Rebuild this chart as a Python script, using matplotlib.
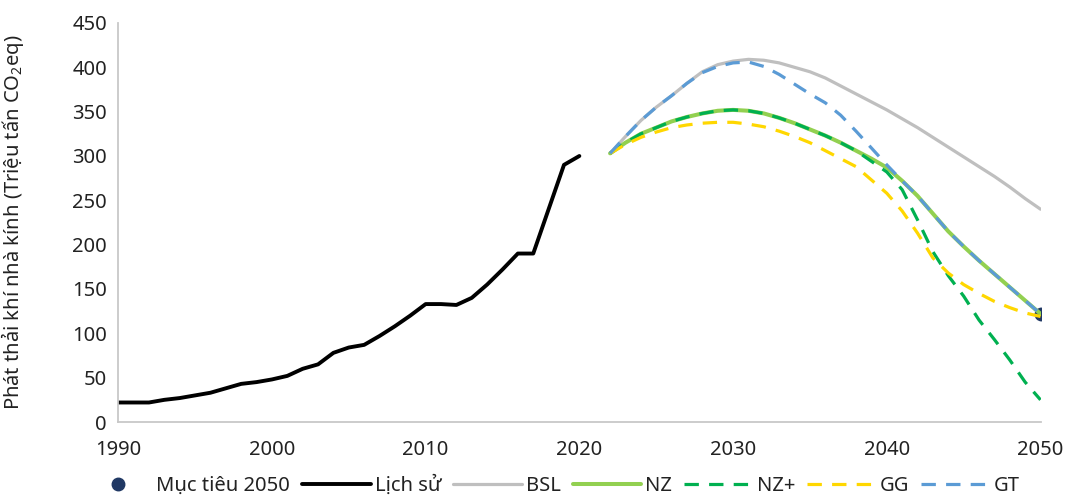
import numpy as np
import matplotlib
matplotlib.use("Agg")
import matplotlib.pyplot as plt

plt.rcParams['font.family'] = ['Noto Sans', 'DejaVu Sans']
plt.rcParams['mathtext.fontset'] = 'custom'
plt.rcParams['mathtext.rm'] = 'Noto Sans'
plt.rcParams['mathtext.it'] = 'Noto Sans'

# historical emissions (Lịch sử)
hist_years = list(range(1990, 2021))
hist_vals = [22, 22, 22, 25, 27, 30, 33, 38, 43, 45, 48, 52, 60, 65, 78, 84, 87, 97,
             108, 120, 133, 133, 132, 140, 155, 172, 190, 190, 240, 290, 300]

# scenarios 2022-2050
scen_years = list(range(2022, 2051))
bsl = [303, 322, 340, 355, 368, 382, 395, 403, 407, 409, 408, 405, 400, 395, 388,
       379, 370, 361, 352, 342, 332, 321, 310, 299, 288, 277, 265, 252, 240]
nz = [303, 315, 325, 332, 339, 344, 348, 351, 352, 351, 348, 343, 337, 330, 323,
      315, 306, 297, 287, 272, 255, 235, 215, 198, 182, 167, 152, 137, 122]
nz_plus = [303, 315, 325, 332, 339, 344, 348, 351, 352, 351, 348, 343, 337, 330, 323,
           315, 306, 294, 282, 262, 228, 192, 165, 142, 115, 93, 70, 45, 25]
gg = [303, 313, 321, 327, 332, 335, 337, 338, 338, 336, 333, 328, 322, 315, 306,
      297, 288, 273, 258, 238, 213, 185, 168, 155, 145, 136, 129, 123, 119]
gt = [303, 322, 340, 355, 368, 382, 394, 401, 405, 406, 401, 392, 381, 370, 360,
      346, 328, 309, 290, 272, 255, 235, 215, 198, 182, 167, 152, 137, 122]

target_year = [2050]
target_val = [122]

fig = plt.figure(figsize=(10.65, 5.0), dpi=100)
ax = fig.add_axes([0.111, 0.156, 0.866, 0.798])

lw = 2.3
dash = (0, (4.5, 3.2))
ax.plot(scen_years, bsl, color='#BFBFBF', lw=lw, label='BSL',
        solid_capstyle='round', solid_joinstyle='round')
ax.plot(scen_years, nz, color='#92D050', lw=lw + 0.6, label='NZ',
        solid_capstyle='round', solid_joinstyle='round')
ax.plot(scen_years, nz_plus, color='#00B050', lw=lw, ls=dash, label='NZ+')
ax.plot(scen_years, gg, color='#FFD700', lw=lw, ls=dash, label='GG')
ax.plot(scen_years, gt, color='#5B9BD5', lw=lw, ls=dash, label='GT')
ax.plot(hist_years, hist_vals, color='black', lw=2.8, label='Lịch sử',
        solid_capstyle='round', solid_joinstyle='round')
ax.plot(target_year, target_val, 'o', color='#203864', ms=9, label='Mục tiêu 2050', zorder=1)

ax.set_xlim(1990, 2050)
ax.set_ylim(0, 450)
ax.set_xticks(range(1990, 2051, 10))
ax.set_yticks(range(0, 451, 50))
ax.tick_params(length=0, labelsize=14.5, colors='#222222', pad=8)
ax.tick_params(axis='x', pad=13)
for s in ['top', 'right']:
    ax.spines[s].set_visible(False)
for s in ['left', 'bottom']:
    ax.spines[s].set_color('#C8C8C8')
    ax.spines[s].set_linewidth(1.3)
ax.set_ylabel('Phát thải khí nhà kính (Triệu tấn CO$_2$eq)', fontsize=14.5,
              color='#222222')
ax.yaxis.set_label_coords(-0.1, 0.5)

h, l = ax.get_legend_handles_labels()
order = ['Mục tiêu 2050', 'Lịch sử', 'BSL', 'NZ', 'NZ+', 'GG', 'GT']
hd = dict(zip(l, h))
ax.legend([hd[k] for k in order], order, loc='center', bbox_to_anchor=(0.47, -0.16),
          ncol=7, frameon=False, fontsize=14.5, handlelength=3.4, handletextpad=0.2,
          columnspacing=0.6, labelcolor='#222222')

fig.savefig('out.png', dpi=100)
